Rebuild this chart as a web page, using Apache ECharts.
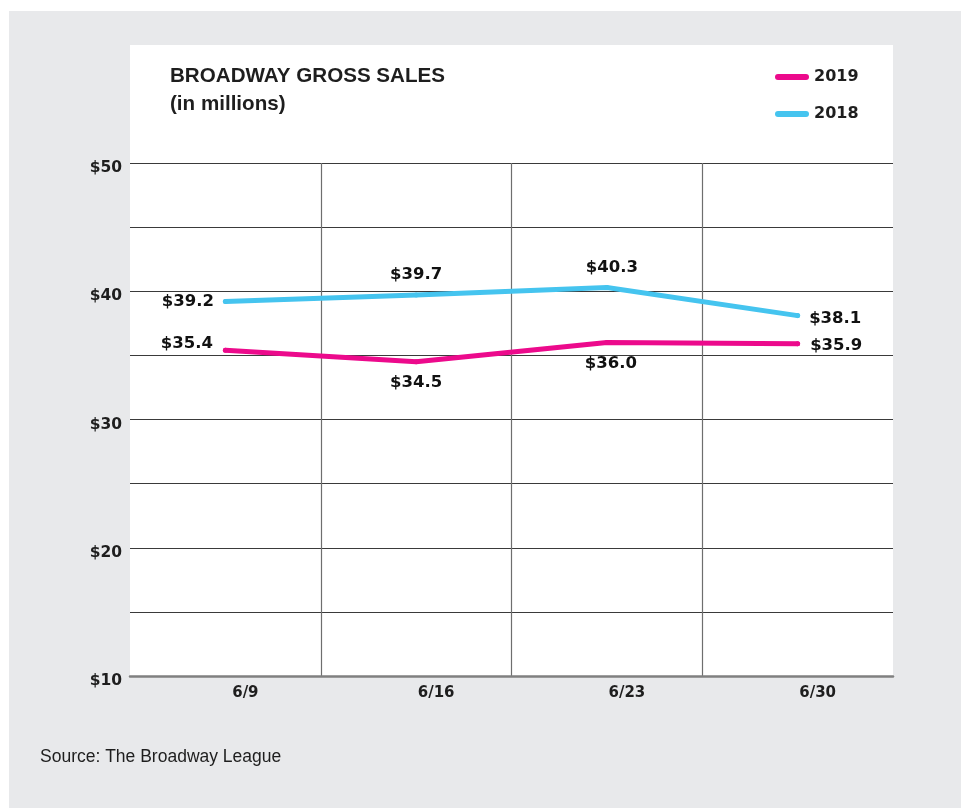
<!DOCTYPE html>
<html>
<head>
<meta charset="utf-8">
<title>Broadway Gross Sales</title>
<script src="https://cdn.jsdelivr.net/npm/echarts@6/dist/echarts.min.js"></script>
<style>
  html, body { margin: 0; padding: 0; background: #fff; }
  #chart { width: 961px; height: 808px; }
</style>
</head>
<body>
<div id="chart"></div>
<script>
const weeks = ['6/9', '6/16', '6/23', '6/30'];
const sales2019 = [35.4, 34.5, 36.0, 35.9];
const sales2018 = [39.2, 39.7, 40.3, 38.1];
// where each value label sits relative to its point
const labelPos2019 = ['left', 'bottom', 'bottom', 'right'];
const labelPos2018 = ['left', 'top', 'top', 'right'];

const numFont = 'DejaVu Sans';
const textColor = '#1e1e1e';

function withLabels(values, positions, offsets) {
  return values.map((v, i) => ({
    value: v,
    label: { position: positions[i], offset: offsets[i] }
  }));
}

const chart = echarts.init(document.getElementById('chart'), null, { renderer: 'canvas' });

const option = {
  backgroundColor: '#ffffff',
  animation: false,
  graphic: [
    { type: 'rect', z: -10, shape: { x: 9, y: 11, width: 952, height: 797 }, style: { fill: '#e8e9eb' } },
    { type: 'rect', z: -9, shape: { x: 130, y: 45, width: 763, height: 631 }, style: { fill: '#ffffff' } },
    {
      type: 'text', left: 170, top: 66,
      style: { text: 'BROADWAY GROSS SALES', font: 'bold 20.6px "Liberation Sans", Arial, sans-serif', fill: textColor }
    },
    {
      type: 'text', left: 170, top: 94,
      style: { text: '(in millions)', font: 'bold 20.6px "Liberation Sans", Arial, sans-serif', fill: textColor }
    },
    {
      type: 'text', left: 40, top: 748,
      style: { text: 'Source: The Broadway League', font: '17.5px "Liberation Sans", Arial, sans-serif', fill: textColor }
    }
  ],
  legend: {
    orient: 'vertical',
    left: 775,
    top: 67,
    padding: 0,
    itemWidth: 34,
    itemHeight: 6,
    itemGap: 17,
    icon: 'path://M3,0 L31,0 A3,3 0 0 1 31,6 L3,6 A3,3 0 0 1 3,0 Z',
    textStyle: { fontFamily: numFont, fontWeight: 'bold', fontSize: 16, color: textColor, lineHeight: 20 },
    data: ['2019', '2018']
  },
  grid: {
    left: 130,
    right: 68,
    top: 163,
    bottom: 132
  },
  xAxis: {
    type: 'category',
    data: weeks,
    boundaryGap: true,
    axisLine: { show: true, lineStyle: { color: '#808080', width: 2.5 } },
    axisTick: { show: false },
    axisLabel: {
      fontFamily: numFont, fontWeight: 'bold', fontSize: 15, color: textColor,
      margin: 10, padding: [0, 0, 0, 40]
    },
    splitLine: {
      show: true,
      showMinLine: false,
      showMaxLine: false,
      lineStyle: { color: '#6e6e6e', width: 1.2 }
    }
  },
  yAxis: {
    type: 'value',
    min: 10,
    max: 50,
    interval: 5,
    axisLine: { show: false },
    axisTick: { show: false },
    axisLabel: {
      fontFamily: numFont, fontWeight: 'bold', fontSize: 15.5, color: textColor, margin: 8,
      verticalAlign: 'top', lineHeight: 10,
      formatter: v => (v % 10 === 0 ? '$' + v : '')
    },
    splitLine: { show: true, lineStyle: { color: '#3a3a3a', width: 1 } }
  },
  series: [
    {
      name: '2019',
      type: 'line',
      data: withLabels(sales2019, labelPos2019, [[0, -7], [0, 0], [4, 0], [0, 2]]),
      symbol: 'circle',
      symbolSize: 5,
      itemStyle: { color: '#ec0a8c' },
      lineStyle: { color: '#ec0a8c', width: 5, cap: 'round', join: 'round' },
      label: {
        show: true,
        distance: 10,
        fontFamily: numFont, fontWeight: 'bold', fontSize: 16.5, color: '#111',
        formatter: p => '$' + p.value.toFixed(1)
      }
    },
    {
      name: '2018',
      type: 'line',
      data: withLabels(sales2018, labelPos2018, [[0, 0], [0, 0], [5, 0], [0, 3]]),
      symbol: 'circle',
      symbolSize: 5,
      itemStyle: { color: '#45c4ef' },
      lineStyle: { color: '#45c4ef', width: 5, cap: 'round', join: 'round' },
      label: {
        show: true,
        distance: 9,
        fontFamily: numFont, fontWeight: 'bold', fontSize: 16.5, color: '#111',
        formatter: p => '$' + p.value.toFixed(1)
      }
    }
  ]
};

chart.setOption(option);
</script>
</body>
</html>
